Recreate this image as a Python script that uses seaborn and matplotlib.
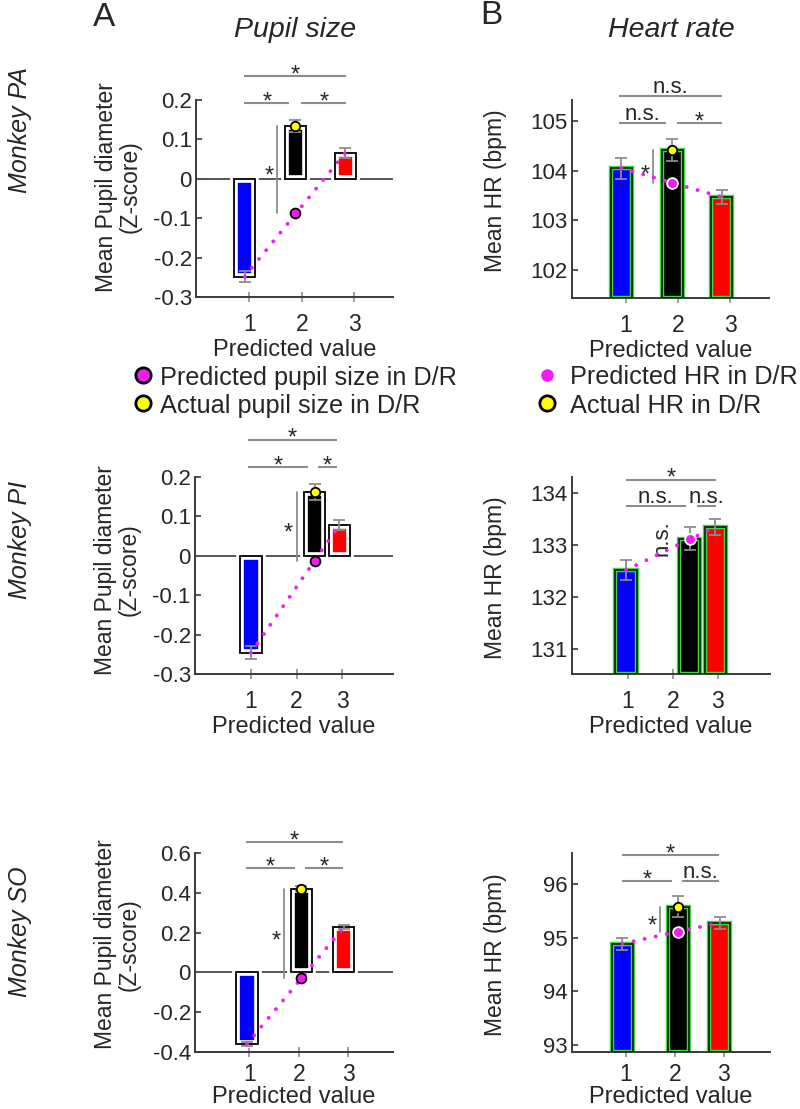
import numpy as np
import matplotlib
matplotlib.use("Agg")
import matplotlib.pyplot as plt
from matplotlib.lines import Line2D
import seaborn as sns

# ------------------------------------------------------------------ data
bar_colors = ["#0000ff", "#000000", "#ff0000"]
xtick_values = [1, 2, 3]
xtick_labels = ["1", "2", "3"]

# Monkey PA
pa_pupil_x = [0.91, 1.87, 2.83]
pa_pupil_mean = [-0.248, 0.134, 0.066]
pa_pupil_sem = [0.013, 0.015, 0.012]
pa_pupil_pred = -0.088
pa_hr_x = [0.91, 1.89, 2.84]
pa_hr_mean = [104.05, 104.42, 103.47]
pa_hr_sem = [0.21, 0.22, 0.15]
pa_hr_pred = 103.76

# Monkey PI
pi_pupil_x = [1.00, 2.40, 2.94]
pi_pupil_mean = [-0.246, 0.162, 0.078]
pi_pupil_sem = [0.017, 0.020, 0.012]
pi_pupil_pred = -0.012
pi_hr_x = [0.96, 2.38, 2.94]
pi_hr_mean = [132.52, 133.12, 133.35]
pi_hr_sem = [0.19, 0.22, 0.15]
pi_hr_pred = 133.12

# Monkey SO
so_pupil_x = [0.95, 2.05, 2.90]
so_pupil_mean = [-0.360, 0.420, 0.226]
so_pupil_sem = [0.012, 0.012, 0.010]
so_pupil_pred = -0.030
so_hr_x = [0.93, 2.07, 2.91]
so_hr_mean = [94.89, 95.58, 95.28]
so_hr_sem = [0.11, 0.19, 0.11]
so_hr_pred = 95.10

# significance brackets: (x1, x2, y, label)
pa_pupil_sig = [(0.90, 2.85, 0.261, "*"), (0.90, 1.76, 0.192, "*"), (1.99, 2.85, 0.192, "*")]
pa_hr_sig = [(0.87, 2.85, 105.50, "n.s."), (0.87, 1.77, 104.96, "n.s."), (1.98, 2.85, 104.96, "*")]
pi_pupil_sig = [(0.93, 2.89, 0.295, "*"), (0.93, 2.25, 0.226, "*"), (2.47, 2.89, 0.226, "*")]
pi_hr_sig = [(0.96, 2.96, 134.26, "*"), (0.96, 2.29, 133.75, "n.s."), (2.53, 2.96, 133.75, "n.s.")]
so_pupil_sig = [(0.93, 2.89, 0.655, "*"), (0.93, 1.92, 0.524, "*"), (2.12, 2.89, 0.524, "*")]
so_hr_sig = [(0.92, 2.90, 96.54, "*"), (0.92, 1.94, 96.06, "*"), (2.14, 2.90, 96.06, "n.s.")]

# actual-vs-predicted comparison: (x of line, label x, label y, label, rotation)
pa_pupil_cmp = (1.53, 1.38, 0.023, "*", 0)
pa_hr_cmp = (1.52, 1.37, 104.05, "*", 0)
pi_pupil_cmp = (2.00, 1.81, 0.074, "*", 0)
pi_hr_cmp = (1.87, 1.76, 133.14, "n.s.", 90)
so_pupil_cmp = (1.70, 1.54, 0.190, "*", 0)
so_hr_cmp = (1.69, 1.53, 95.33, "*", 0)

# ------------------------------------------------------------------ style
sns.set_theme(style="white")
plt.rcParams["font.family"] = ["Liberation Sans", "DejaVu Sans"]
plt.rcParams["axes.unicode_minus"] = False

MAG = "#f21cf2"
YEL = "#ffff00"
GRAY = "#8c8c8c"
SPINE = "#3a3a3a"
W_PX, H_PX = 800, 1109

fig = plt.figure(figsize=(W_PX / 100, H_PX / 100), dpi=100)


def add_ax(left_px, bottom_px, h_px, w_px=197):
    return fig.add_axes([left_px / W_PX, 1 - bottom_px / H_PX, w_px / W_PX, h_px / H_PX])


def style_axes(ax, xlim, ylim, yticks, yticklabels, xpad, labelpad):
    ax.set_xlim(xlim)
    ax.set_ylim(ylim)
    for s in ["top", "right"]:
        ax.spines[s].set_visible(False)
    for s in ["left", "bottom"]:
        ax.spines[s].set_color(SPINE)
        ax.spines[s].set_linewidth(1.4)
    ax.set_xticks(xtick_values)
    ax.set_xticklabels(xtick_labels, fontsize=16.5)
    ax.set_yticks(yticks)
    ax.set_yticklabels(yticklabels, fontsize=16)
    ax.tick_params(axis="y", direction="in", length=4, width=1.2, color=SPINE, pad=3, left=True)
    ax.tick_params(axis="x", direction="inout", length=7, width=1.2, color=GRAY, pad=xpad, bottom=True)
    ax.set_xlabel("Predicted value", fontsize=17, labelpad=labelpad)
    ax.set_facecolor("none")


def bar_width(ax, px=21):
    xl = ax.get_xlim()
    return px * (xl[1] - xl[0]) / 197.0


def draw_sig(ax, sig):
    for x1, x2, y, lab in sig:
        ax.plot([x1, x2], [y, y], color=GRAY, lw=1.5, clip_on=False, solid_capstyle="butt")
        xm = (x1 + x2) / 2
        if lab == "*":
            ax.annotate(lab, (xm, y), xytext=(0, 0.5), textcoords="offset points",
                        ha="center", va="center", fontsize=17, annotation_clip=False)
        else:
            ax.annotate(lab, (xm, y), xytext=(0, 2), textcoords="offset points",
                        ha="center", va="baseline", fontsize=16, annotation_clip=False)


def draw_cmp(ax, cmp, y_top, y_bot):
    xl, xt, yt, lab, rot = cmp
    ax.plot([xl, xl], [y_bot, y_top], color=GRAY, lw=1.3, zorder=4)
    if rot == 0:
        ax.annotate(lab, (xt, yt), xytext=(0, -5), textcoords="offset points",
                    ha="center", va="center", fontsize=17)
    else:
        ax.text(xt, yt, lab, rotation=rot, ha="center", va="center", fontsize=16)


def dotted_line(ax, xs, ys):
    sns.lineplot(x=xs, y=ys, ax=ax, color=MAG, lw=2.8, linestyle=(0, (0.01, 2.9)),
                 dash_capstyle="round", zorder=5)


def pupil_panel(ax, xs, means, sems, pred, xlim, ylim, yticks, yticklabels, sig, cmp,
                xpad=8.0, labelpad=2):
    style_axes(ax, xlim, ylim, yticks, yticklabels, xpad, labelpad)
    ax.axhline(0, color="#555555", lw=1.4, zorder=1)
    w = bar_width(ax)
    ax.bar(xs, means, width=w, color=bar_colors, edgecolor="white", linewidth=5.5, zorder=2)
    ax.bar(xs, means, width=w, fill=False, edgecolor="black", linewidth=1.3, zorder=3)
    ax.errorbar(xs, means, yerr=sems, fmt="none", ecolor=GRAY, elinewidth=1.3,
                capsize=4, capthick=1.3, zorder=4)
    dotted_line(ax, [xs[0], xs[2]], [means[0], means[2]])
    sns.scatterplot(x=[xs[1]], y=[pred], ax=ax, color=MAG, edgecolor="black",
                    s=50, linewidth=1.3, zorder=7)
    sns.scatterplot(x=[xs[1]], y=[means[1]], ax=ax, color=YEL, edgecolor="black",
                    s=46, linewidth=1.3, zorder=7)
    draw_sig(ax, sig)
    draw_cmp(ax, cmp, means[1], pred)
    ax.set_ylabel("Mean Pupil diameter\n(Z-score)", fontsize=16.5, linespacing=1.05)


def hr_panel(ax, xs, means, sems, pred, xlim, ylim, yticks, sig, cmp, xpad=8.0, labelpad=2):
    style_axes(ax, xlim, ylim, yticks, [str(t) for t in yticks], xpad, labelpad)
    w = bar_width(ax)
    base = ylim[0]
    heights = [m - base for m in means]
    ax.bar(xs, heights, bottom=base, width=w, color=bar_colors, edgecolor="#45d445",
           linewidth=3.2, zorder=2)
    ax.bar(xs, heights, bottom=base, width=w, fill=False, edgecolor="#0c2c0c",
           linewidth=1.3, zorder=3)
    ax.errorbar(xs, means, yerr=sems, fmt="none", ecolor=GRAY, elinewidth=1.3,
                capsize=4, capthick=1.3, zorder=4)
    dotted_line(ax, [xs[0], xs[2]], [means[0], means[2]])
    sns.scatterplot(x=[xs[1]], y=[means[1]], ax=ax, color=YEL, edgecolor="black",
                    s=46, linewidth=1.3, zorder=7)
    sns.scatterplot(x=[xs[1]], y=[pred], ax=ax, color=MAG, edgecolor="white",
                    s=60, linewidth=1.3, zorder=8)
    draw_sig(ax, sig)
    draw_cmp(ax, cmp, means[1], pred)
    ax.set_ylabel("Mean HR (bpm)", fontsize=16.5)


pupil_ticks_a = [-0.3, -0.2, -0.1, 0, 0.1, 0.2]
pupil_labels_a = ["-0.3", "-0.2", "-0.1", "0", "0.1", "0.2"]
pupil_ticks_c = [-0.4, -0.2, 0, 0.2, 0.4, 0.6]
pupil_labels_c = ["-0.4", "-0.2", "0", "0.2", "0.4", "0.6"]

PUPIL_LX = -0.275
HR_LX = -0.33

# Row 1 : Monkey PA
ax1 = add_ax(196, 297, 197)
pupil_panel(ax1, pa_pupil_x, pa_pupil_mean, pa_pupil_sem, pa_pupil_pred,
            (-0.02, 3.74), (-0.3, 0.2), pupil_ticks_a, pupil_labels_a, pa_pupil_sig, pa_pupil_cmp)
ax1.yaxis.set_label_coords(PUPIL_LX, 0.56)

ax2 = add_ax(572, 298, 198)
hr_panel(ax2, pa_hr_x, pa_hr_mean, pa_hr_sem, pa_hr_pred,
         (-0.04, 3.75), (101.44, 105.42), [102, 103, 104, 105], pa_hr_sig, pa_hr_cmp)
ax2.yaxis.set_label_coords(HR_LX, 0.54)

# Row 2 : Monkey PI
ax3 = add_ax(195, 674, 197, 198)
pupil_panel(ax3, pi_pupil_x, pi_pupil_mean, pi_pupil_sem, pi_pupil_pred,
            (-0.23, 4.12), (-0.3, 0.2), pupil_ticks_a, pupil_labels_a, pi_pupil_sig, pi_pupil_cmp)
ax3.yaxis.set_label_coords(PUPIL_LX, 0.53)

ax4 = add_ax(572, 674, 197, 198)
hr_panel(ax4, pi_hr_x, pi_hr_mean, pi_hr_sem, pi_hr_pred,
         (-0.24, 4.16), (130.52, 134.31), [131, 132, 133, 134], pi_hr_sig, pi_hr_cmp)
ax4.yaxis.set_label_coords(HR_LX, 0.49)

# Row 3 : Monkey SO
ax5 = add_ax(195, 1052, 199, 198)
pupil_panel(ax5, so_pupil_x, so_pupil_mean, so_pupil_sem, so_pupil_pred,
            (-0.10, 3.90), (-0.4, 0.6), pupil_ticks_c, pupil_labels_c, so_pupil_sig, so_pupil_cmp,
            xpad=4.5, labelpad=0)
ax5.yaxis.set_label_coords(PUPIL_LX, 0.54)

ax6 = add_ax(572, 1052, 199, 198)
hr_panel(ax6, so_hr_x, so_hr_mean, so_hr_sem, so_hr_pred,
         (-0.10, 3.94), (92.87, 96.58), [93, 94, 95, 96], so_hr_sig, so_hr_cmp,
         xpad=4.5, labelpad=0)
ax6.yaxis.set_label_coords(HR_LX, 0.49)

# ------------------------------------------------------------------ texts
def fx(px):
    return px / W_PX


def fy(py):
    return 1 - py / H_PX


fig.text(fx(104), fy(17), "A", fontsize=24, ha="center", va="center")
fig.text(fx(491), fy(16), "B", fontsize=24, ha="center", va="center")
fig.text(fx(295), fy(30), "Pupil size", fontsize=20.5, style="italic", ha="center", va="center")
fig.text(fx(671), fy(30), "Heart rate", fontsize=20.5, style="italic", ha="center", va="center")

for lab, yc in [("Monkey PA", 130), ("Monkey PI", 540), ("Monkey SO", 932)]:
    fig.text(fx(20), fy(yc), lab, fontsize=18, style="italic", rotation=90,
             ha="center", va="center")

# legends
legend_rows = [
    (143, 160, 375, MAG, "black", "Predicted pupil size in D/R"),
    (143, 160, 403, YEL, "black", "Actual pupil size in D/R"),
    (547, 570, 375, MAG, "white", "Predicted HR in D/R"),
    (547, 570, 403, YEL, "black", "Actual HR in D/R"),
]
for mx, tx, yy, fc, ec, lab in legend_rows:
    fig.add_artist(Line2D([fx(mx)], [fy(yy)], transform=fig.transFigure, marker="o",
                          ls="", ms=11, mfc=fc, mec=ec, mew=2.0))
    fig.text(fx(tx), fy(yy), lab, fontsize=18.2, ha="left", va="center_baseline")

fig.savefig("out.png", dpi=100, facecolor="white")
